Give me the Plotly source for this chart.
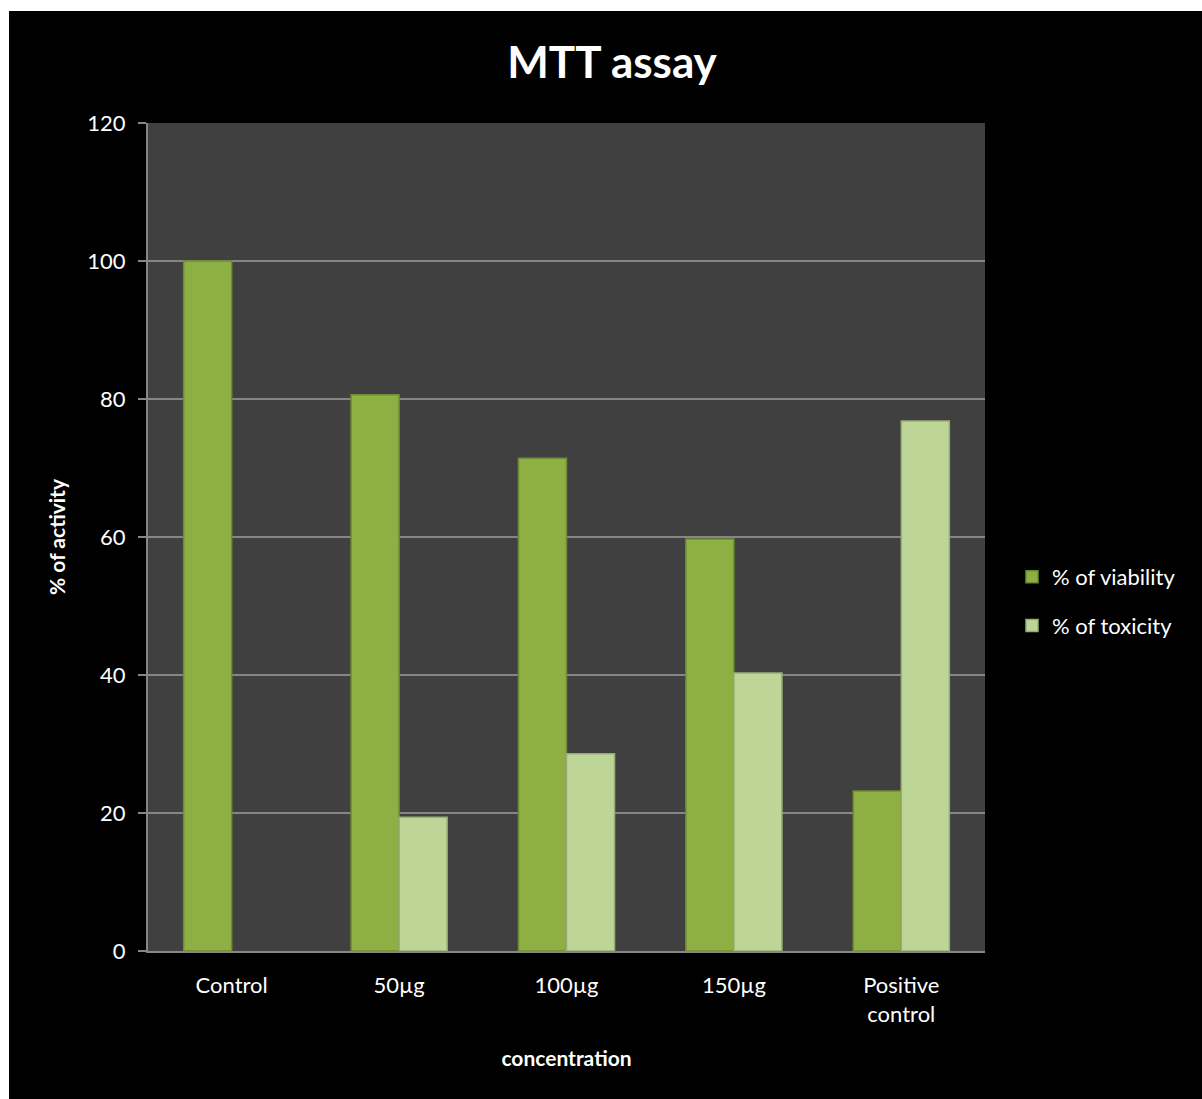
import plotly.graph_objects as go

# MTT assay results per treatment
categories = ["Control", "50µg", "100µg", "150µg", "Positive<br>control"]
viability = [100, 80.6, 71.4, 59.7, 23.2]
toxicity = [None, 19.4, 28.6, 40.3, 76.8]

W, H = 1202, 1099
ML, MR, MT, MB = 148, 217, 123, 148

fig = go.Figure()
fig.add_trace(go.Bar(
    name="% of viability", x=categories, y=viability, legendgroup="v",
    marker=dict(color="#8DAF43", line=dict(color="#6E8C30", width=1.5)),
))
fig.add_trace(go.Bar(
    name="% of toxicity", x=categories, y=toxicity, legendgroup="t",
    marker=dict(color="#BDD596", line=dict(color="#98AE74", width=1.5)),
))

pw = W - ML - MR
ph = H - MT - MB

def px_x(p):
    return (p - ML) / pw

def px_y(p):
    return (H - MB - p) / ph

# white page margin on the top and left edges
fig.add_shape(type="rect", xref="paper", yref="paper",
              x0=px_x(-5), x1=px_x(9), y0=px_y(H + 5), y1=px_y(-5),
              fillcolor="white", line=dict(width=0), layer="above")
fig.add_shape(type="rect", xref="paper", yref="paper",
              x0=px_x(-5), x1=px_x(W + 5), y0=px_y(11), y1=px_y(-5),
              fillcolor="white", line=dict(width=0), layer="above")

fig.update_layout(
    width=W, height=H,
    margin=dict(l=ML, r=MR, t=MT, b=MB, autoexpand=False),
    paper_bgcolor="black",
    plot_bgcolor="#404040",
    font=dict(family="Lato", color="white", size=22),
    title=dict(text="<b>MTT assay</b>", x=612 / W, xanchor="center",
               y=1 - 63 / H, yanchor="middle",
               font=dict(size=44, family="Lato", color="white")),
    barmode="group",
    bargap=0.426,
    bargroupgap=0,
    legend=dict(x=px_x(1012), y=px_y(556), xanchor="left", yanchor="top",
                font=dict(size=22, color="white"), tracegroupgap=17,
                traceorder="grouped",
                itemwidth=30, bgcolor="rgba(0,0,0,0)"),
    showlegend=True,
)
fig.update_xaxes(
    showline=True, linecolor="#868686", linewidth=2,
    ticks="", tickfont=dict(size=22), showgrid=False, ticklabelstandoff=14,
    title=dict(text="<b>concentration</b>", font=dict(size=21), standoff=25),
)
fig.update_yaxes(
    range=[0, 120], dtick=20, showgrid=True, gridcolor="#868686", gridwidth=2,
    showline=True, linecolor="#868686", linewidth=2,
    ticks="outside", ticklen=8, tickcolor="#868686", tickwidth=2,
    tickfont=dict(size=22), zeroline=False, ticklabelstandoff=8,
    title=dict(text="<b>% of activity</b>", font=dict(size=21), standoff=16),
)

fig.write_html("out.html")
